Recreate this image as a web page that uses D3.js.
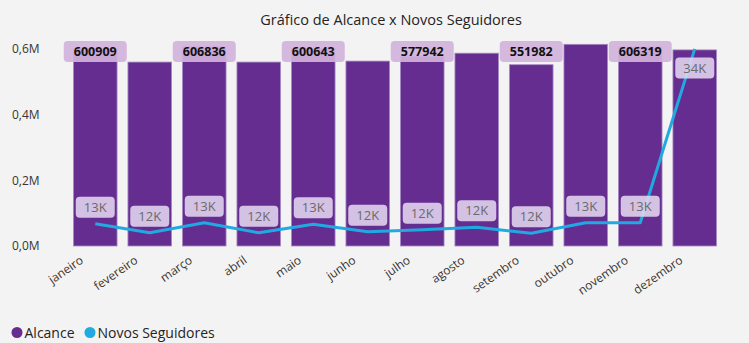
<!DOCTYPE html>
<html>
<head>
<meta charset="utf-8">
<script src="https://cdn.jsdelivr.net/npm/d3@7"></script>
<style>
html,body{margin:0;padding:0;background:#f3f3f3;}
svg{display:block;font-family:"Open Sans","Noto Sans",sans-serif;}
</style>
</head>
<body>
<svg id="chart" width="749" height="343"></svg>
<script>
const months = ["janeiro","fevereiro","março","abril","maio","junho","julho","agosto","setembro","outubro","novembro","dezembro"];
const alcance = [600909, 560000, 606836, 560000, 600643, 563000, 577942, 587000, 551982, 614000, 606319, 597000];
const seguidores = [12710, 11610, 12830, 11610, 12660, 11740, 11980, 12290, 11550, 12830, 12830, 34000];
const yTicks = [0, 200000, 400000, 600000];
const seriesNames = ["Alcance", "Novos Seguidores"];

const W = 749, H = 343;
const svg = d3.select("#chart");
const plotLeft = 68, plotRight = 722, plotBottom = 246, plotTop = 32.5;
const barColor = "#662d91", lineColor = "#21a9e1";

const x = d3.scaleBand().domain(months).range([plotLeft, plotRight]).paddingInner(0.2).paddingOuter(0.1);
const y = d3.scaleLinear().domain([0, 650000]).range([plotBottom, plotTop]);
const y2 = d3.scaleLinear().domain([10000, 36000]).range([plotBottom, plotTop]);

// title
svg.append("text").attr("x", 391).attr("y", 25).attr("text-anchor", "middle")
  .attr("font-size", 14.5).attr("fill", "#252423").text("Gráfico de Alcance x Novos Seguidores");

// y axis
const yAxis = d3.axisLeft(y).tickValues(yTicks).tickSize(0).tickPadding(0)
  .tickFormat(d => d3.format(".1f")(d / 1e6).replace(".", ",") + "M");
const ga = svg.append("g").attr("transform", "translate(12,0)").call(yAxis);
ga.select(".domain").remove();
ga.selectAll("text").attr("text-anchor", "start").attr("x", 0).attr("font-size", 12)
  .attr("fill", "#3a3530").attr("font-family", "Open Sans, Noto Sans, sans-serif");

// bars
svg.append("g").selectAll("rect").data(months).join("rect")
  .attr("x", d => x(d)).attr("width", x.bandwidth())
  .attr("y", (d, i) => y(alcance[i])).attr("height", (d, i) => y(0) - y(alcance[i]))
  .attr("fill", barColor).attr("stroke", "#a68bc2").attr("stroke-width", 0.8);

// x axis labels
const xAxis = d3.axisBottom(x).tickSize(0).tickPadding(0);
const gx = svg.append("g").attr("transform", `translate(0,${plotBottom})`).call(xAxis);
gx.select(".domain").remove();
gx.selectAll("text")
  .attr("font-size", 12).attr("fill", "#3a3530").attr("font-family", "Open Sans, Noto Sans, sans-serif")
  .attr("text-anchor", "end").attr("dy", 0).attr("y", 0)
  .attr("transform", "translate(-11,16) rotate(-35)");

// line
const line = d3.line().x((d, i) => x(months[i]) + x.bandwidth() / 2).y(d => y2(d));
svg.append("path").datum(seguidores).attr("d", line).attr("fill", "none")
  .attr("stroke", lineColor).attr("stroke-width", 3).attr("stroke-linejoin", "round");

// bar labels (alternating, as Power BI hides overlapping ones)
const gb = svg.append("g");
months.forEach((m, i) => {
  if (i % 2 !== 0) return;
  const cx = x(m) + x.bandwidth() / 2;
  const g = gb.append("g").attr("transform", `translate(${cx},51.5)`);
  g.append("rect").attr("x", -31.5).attr("y", -10.5).attr("width", 63).attr("height", 21).attr("rx", 4)
    .attr("fill", "#d3b3dc").attr("opacity", 0.92);
  g.append("text").attr("text-anchor", "middle").attr("dy", "0.36em").attr("font-size", 12.5)
    .attr("font-weight", "bold").attr("fill", "#111").text(alcance[i]);
});

// line labels
const gl = svg.append("g");
seguidores.forEach((v, i) => {
  const cx = x(months[i]) + x.bandwidth() / 2;
  const py = y2(v);
  const cy = (py - 28 < plotTop) ? py + 19 : py - 16.5;
  const g = gl.append("g").attr("transform", `translate(${cx},${cy})`);
  g.append("rect").attr("x", -19.5).attr("y", -10.5).attr("width", 39).attr("height", 21).attr("rx", 4)
    .attr("fill", "#e2d7ee").attr("opacity", 0.88);
  g.append("text").attr("text-anchor", "middle").attr("dy", "0.36em").attr("font-size", 13)
    .attr("fill", "#6a6a6a").text(Math.round(v / 1000) + "K");
});

// legend
const lg = svg.append("g").attr("transform", "translate(0,332.5)");
const lx = [17, 90];
const colors = [barColor, lineColor];
seriesNames.forEach((n, i) => {
  lg.append("circle").attr("cx", lx[i]).attr("cy", 0).attr("r", 5.5).attr("fill", colors[i]);
  lg.append("text").attr("x", lx[i] + 7.5).attr("dy", "0.36em").attr("font-size", 14)
    .attr("fill", "#252423").text(n);
});
</script>
</body>
</html>
